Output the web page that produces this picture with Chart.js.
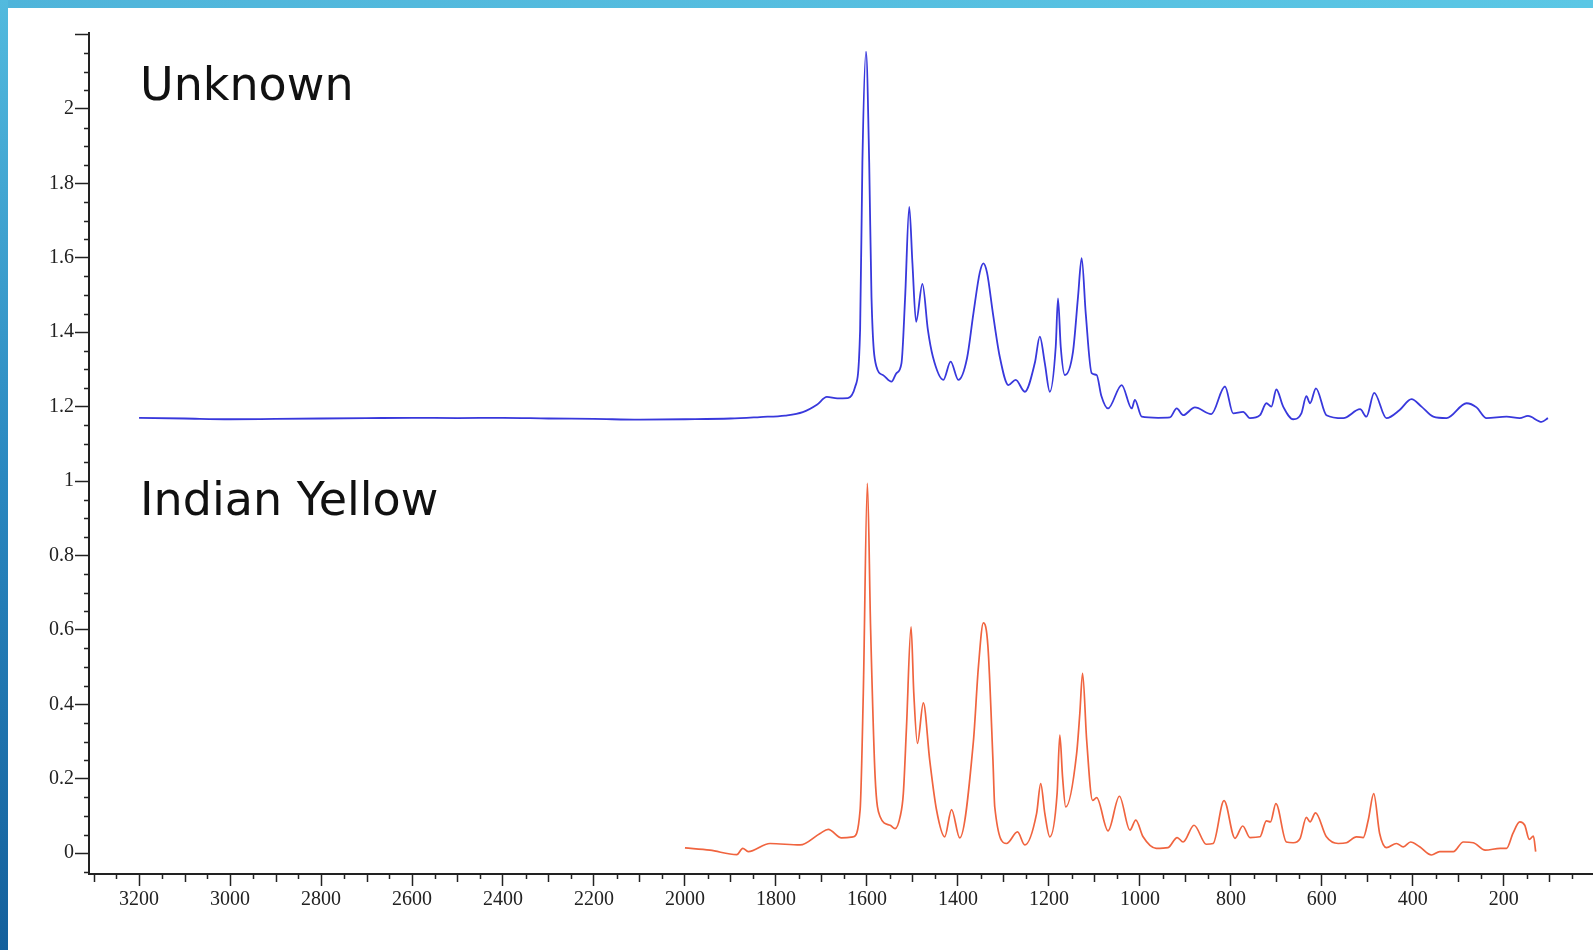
<!DOCTYPE html>
<html><head><meta charset="utf-8">
<script src="https://cdn.jsdelivr.net/npm/chart.js@4.4.0/dist/chart.umd.min.js"></script>
<style>
html,body{margin:0;padding:0;background:#fff;overflow:hidden}
#wrap{position:absolute;left:0;top:0;width:1593px;height:950px}
#topbar{position:absolute;left:0;top:0;width:1593px;height:8px;background:linear-gradient(90deg,#4fb4da,#5bc7e5)}
#leftbar{position:absolute;left:0;top:0;width:8px;height:950px;background:linear-gradient(180deg,#52bade,#2a88c0 50%,#14609c)}
canvas{position:absolute;left:0;top:0}
</style></head><body>
<div id="wrap"><canvas id="c" width="1593" height="950"></canvas><div id="topbar"></div><div id="leftbar"></div></div>
<script>
const seriesNames = ['Unknown', 'Indian Yellow'];

const unknownX = [3200,3100,3000,2900,2800,2700,2600,2500,2400,2300,2200,2100,2000,1900,1835,1780,1741,1710,1688,1665,1642,1626,1615,1610,1602,1595,1590,1579,1565,1546,1535,1524,1516,1507,1500,1492,1478,1466,1455,1432,1416,1399,1380,1366,1352,1344,1336,1323,1308,1289,1273,1253,1231,1220,1209,1198,1185,1180,1174,1165,1147,1136,1128,1119,1106,1095,1085,1070,1040,1018,1011,996,960,934,919,905,879,843,813,795,773,758,736,722,711,700,685,663,645,634,626,613,590,553,516,502,485,458,429,403,381,355,326,282,260,238,194,165,147,117,103];
const unknownY = [1.170,1.168,1.166,1.167,1.168,1.169,1.170,1.169,1.170,1.168,1.167,1.165,1.166,1.168,1.172,1.176,1.185,1.205,1.226,1.222,1.223,1.253,1.406,1.855,2.154,1.855,1.495,1.307,1.285,1.267,1.290,1.317,1.495,1.737,1.586,1.428,1.530,1.406,1.334,1.272,1.321,1.272,1.330,1.450,1.560,1.585,1.560,1.450,1.334,1.258,1.272,1.240,1.317,1.388,1.317,1.240,1.361,1.491,1.361,1.285,1.348,1.495,1.599,1.450,1.290,1.285,1.230,1.195,1.258,1.195,1.218,1.173,1.170,1.171,1.195,1.177,1.198,1.180,1.254,1.182,1.186,1.169,1.177,1.209,1.200,1.246,1.200,1.166,1.182,1.228,1.209,1.249,1.177,1.169,1.193,1.173,1.237,1.169,1.191,1.220,1.200,1.173,1.169,1.209,1.198,1.169,1.173,1.169,1.175,1.159,1.169];

const yellowX = [2000,1945,1886,1873,1861,1813,1747,1703,1685,1656,1630,1615,1608,1599,1592,1582,1571,1549,1538,1527,1520,1513,1503,1497,1489,1476,1462,1447,1429,1414,1396,1366,1355,1344,1334,1323,1319,1293,1269,1253,1227,1218,1209,1198,1182,1176,1170,1163,1139,1132,1126,1117,1104,1095,1070,1045,1022,1009,993,964,938,918,905,881,854,839,815,791,774,758,736,722,713,701,678,663,648,634,626,614,590,564,546,524,509,498,486,473,458,436,421,405,385,359,341,311,289,267,241,208,194,180,165,154,144,135,130];
const yellowY = [0.014,0.008,-0.004,0.013,0.004,0.026,0.022,0.053,0.064,0.041,0.044,0.116,0.429,0.994,0.608,0.205,0.098,0.075,0.066,0.098,0.160,0.340,0.608,0.430,0.295,0.404,0.250,0.116,0.044,0.117,0.041,0.300,0.500,0.619,0.555,0.250,0.124,0.026,0.057,0.022,0.107,0.187,0.107,0.044,0.160,0.317,0.205,0.124,0.268,0.376,0.483,0.304,0.142,0.149,0.060,0.153,0.062,0.089,0.044,0.013,0.015,0.042,0.030,0.075,0.024,0.026,0.141,0.040,0.073,0.042,0.044,0.087,0.084,0.133,0.030,0.028,0.039,0.096,0.084,0.108,0.044,0.026,0.028,0.044,0.042,0.089,0.160,0.053,0.015,0.026,0.017,0.030,0.017,-0.005,0.004,0.004,0.030,0.028,0.008,0.013,0.013,0.053,0.084,0.075,0.037,0.046,0.004];

const xTickValues = [200,400,600,800,1000,1200,1400,1600,1800,2000,2200,2400,2600,2800,3000,3200];
const yTickValues = [0,0.2,0.4,0.6,0.8,1,1.2,1.4,1.6,1.8,2,2.2];
const yTickLabels = ['0','0.2','0.4','0.6','0.8','1','1.2','1.4','1.6','1.8','2',''];

const toPts = (xs, ys) => xs.map((x, i) => ({x: x, y: ys[i]}));

const minorTicks = {
  id: 'minorTicks',
  afterDraw(chart) {
    const ctx = chart.ctx, xs = chart.scales.x, ys = chart.scales.y;
    ctx.save();
    ctx.strokeStyle = '#222';
    ctx.lineWidth = 1.5;
    ctx.beginPath();
    for (let v = 50; v <= 3300; v += 50) {
      if (v % 200 === 0) continue;
      const p = Math.round(xs.getPixelForValue(v)) + 0.5;
      const len = (v % 100 === 0) ? 8 : 5;
      ctx.moveTo(p, xs.top); ctx.lineTo(p, xs.top + len);
    }
    for (let k = -1; k <= 44; k++) {
      if (k % 4 === 0) continue;
      const v = k * 0.05;
      const p = Math.round(ys.getPixelForValue(v)) + 0.5;
      ctx.moveTo(ys.right - 5, p); ctx.lineTo(ys.right, p);
    }
    ctx.stroke();
    ctx.fillStyle = '#111';
    ctx.font = '46px "DejaVu Sans"';
    ctx.textBaseline = 'alphabetic';
    ctx.fillText(seriesNames[0], 140, 100);
    ctx.fillText(seriesNames[1], 140, 515);
    ctx.restore();
  }
};

new Chart(document.getElementById('c'), {
  type: 'line',
  data: {
    datasets: [
      {label: seriesNames[0], data: toPts(unknownX, unknownY), borderColor: '#3838dc', borderWidth: 1.8, pointRadius: 0, fill: false, cubicInterpolationMode: 'monotone'},
      {label: seriesNames[1], data: toPts(yellowX, yellowY), borderColor: '#f0643f', borderWidth: 1.7, pointRadius: 0, fill: false, cubicInterpolationMode: 'monotone'}
    ]
  },
  options: {
    responsive: false,
    animation: false,
    events: [],
    layout: {padding: {left: 0, top: 33, right: 0, bottom: 0}},
    plugins: {legend: {display: false}, tooltip: {enabled: false}},
    scales: {
      x: {
        type: 'linear', reverse: true, min: 4, max: 3310,
        afterBuildTicks: s => { s.ticks = xTickValues.map(v => ({value: v})); },
        afterFit: s => { s.height = 76; },
        border: {display: true, color: '#222', width: 2},
        grid: {drawOnChartArea: false, drawTicks: true, tickLength: 12, tickColor: '#222', tickWidth: 1.5},
        ticks: {color: '#222', padding: 2, maxRotation: 0, autoSkip: false, font: {family: '"Liberation Serif"', size: 20}, callback: v => String(v)}
      },
      y: {
        type: 'linear', min: -0.056, max: 2.204,
        afterBuildTicks: s => { s.ticks = yTickValues.map(v => ({value: v})); },
        afterFit: s => { s.width = 89; },
        border: {display: true, color: '#222', width: 2},
        grid: {drawOnChartArea: false, drawTicks: true, tickLength: 14, tickColor: '#222', tickWidth: 1.5},
        ticks: {color: '#222', padding: 1, autoSkip: false, font: {family: '"Liberation Serif"', size: 20}, callback: (v, i) => yTickLabels[i]}
      }
    }
  },
  plugins: [minorTicks]
});
</script>
</body></html>
